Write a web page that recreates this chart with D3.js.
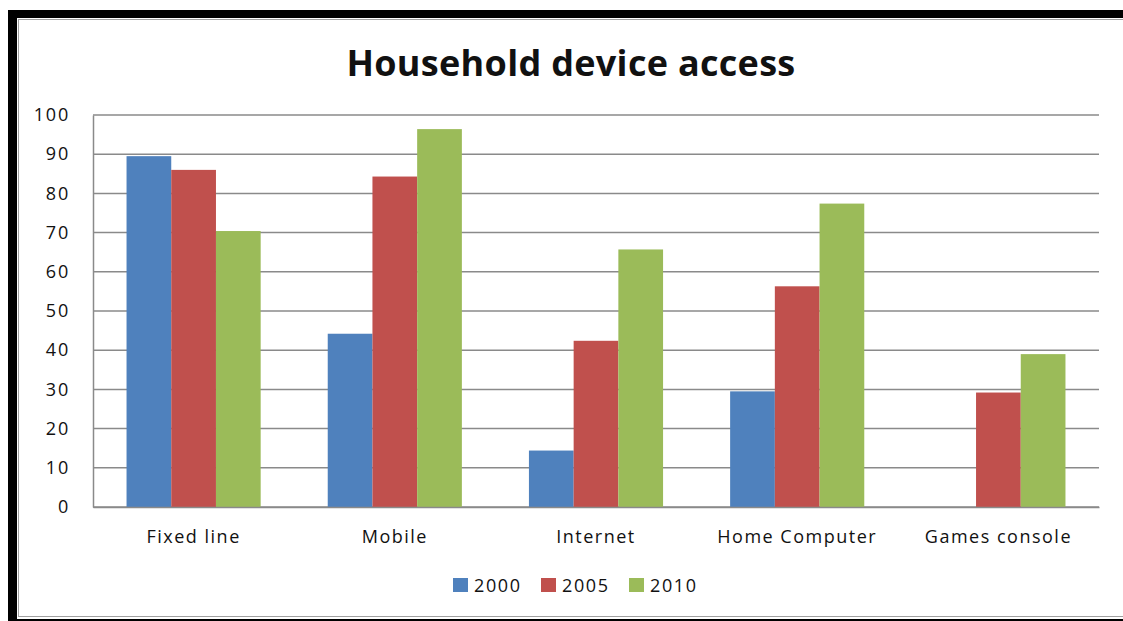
<!DOCTYPE html>
<html>
<head>
<meta charset="utf-8">
<script src="https://cdn.jsdelivr.net/npm/d3@7"></script>
<style>
  html, body { margin: 0; padding: 0; background: #ffffff; }
  svg { display: block; }
  text { font-family: "Open Sans", "Noto Sans", sans-serif; fill: #111; }
</style>
</head>
<body>
<svg id="chart" width="1123" height="621"></svg>
<script>
// Household device access, percentage of households
const categories = ["Fixed line", "Mobile", "Internet", "Home Computer", "Games console"];
const years = ["2000", "2005", "2010"];
const values2000 = [89.5, 44.2, 14.4, 29.5, 0];
const values2005 = [86, 84.3, 42.4, 56.3, 29.2];
const values2010 = [70.4, 96.4, 65.7, 77.4, 39];
const yTicks = [0, 10, 20, 30, 40, 50, 60, 70, 80, 90, 100];
const colors = ["#4F81BD", "#C0504D", "#9BBB59"];

const seriesValues = [values2000, values2005, values2010];
const rows = categories.map((c, i) => ({
  category: c,
  bars: years.map((y, j) => ({ year: y, value: seriesValues[j][i] }))
}));

const svg = d3.select("#chart");

// outer frame: heavy black border with a thin grey inner rule
svg.append("rect").attr("x", 8).attr("y", 10).attr("width", 1200).attr("height", 700).attr("fill", "#000");
svg.append("rect").attr("x", 17).attr("y", 18).attr("width", 1200).attr("height", 601).attr("fill", "#fff");
svg.append("rect").attr("x", 18.5).attr("y", 19.5).attr("width", 1200).attr("height", 597)
  .attr("fill", "none").attr("stroke", "#a0a0a0").attr("stroke-width", 1);

const plot = { left: 93, right: 1099, top: 115, bottom: 507 };

const x0 = d3.scaleBand()
  .domain(categories)
  .range([plot.left, plot.right])
  .paddingInner(1 / 3)
  .paddingOuter(1 / 6);

const x1 = d3.scaleBand()
  .domain(years)
  .range([0, x0.bandwidth()]);

const y = d3.scaleLinear().domain([0, 100]).range([plot.bottom, plot.top]);
const color = d3.scaleOrdinal().domain(years).range(colors);

// horizontal gridlines
svg.append("g")
  .selectAll("line")
  .data(yTicks)
  .join("line")
  .attr("x1", plot.left)
  .attr("x2", plot.right)
  .attr("y1", d => y(d))
  .attr("y2", d => y(d))
  .attr("stroke", "#8a8a8a")
  .attr("stroke-width", 1.5);

// value axis
const yAxis = svg.append("g")
  .attr("transform", `translate(${plot.left},0)`)
  .call(d3.axisLeft(y).tickValues(yTicks).tickSize(0).tickPadding(23));
yAxis.select(".domain").attr("stroke", "#8a8a8a").attr("stroke-width", 1.5);
yAxis.selectAll("text")
  .style("font-size", "18px")
  .style("letter-spacing", "1.8px")
  .attr("fill", "#111");

// bars
const groups = svg.append("g")
  .selectAll("g")
  .data(rows)
  .join("g")
  .attr("transform", d => `translate(${x0(d.category)},0)`);

groups.selectAll("rect")
  .data(d => d.bars)
  .join("rect")
  .attr("x", d => x1(d.year))
  .attr("width", x1.bandwidth())
  .attr("y", d => y(d.value))
  .attr("height", d => y(0) - y(d.value))
  .attr("fill", d => color(d.year));

// category axis
const xAxis = svg.append("g")
  .attr("transform", `translate(0,${plot.bottom})`)
  .call(d3.axisBottom(x0).tickSize(0).tickPadding(23));
xAxis.select(".domain").attr("stroke", "#8a8a8a").attr("stroke-width", 1.5);
xAxis.selectAll("text")
  .style("font-size", "18px")
  .style("letter-spacing", "1.5px")
  .attr("fill", "#111");

// title
svg.append("text")
  .attr("x", 571)
  .attr("y", 76)
  .attr("text-anchor", "middle")
  .style("font-size", "36px")
  .style("font-weight", "700")
  .style("letter-spacing", "0.3px")
  .attr("fill", "#000")
  .text("Household device access");

// legend
const legendItems = [
  { year: years[0], x: 453 },
  { year: years[1], x: 541 },
  { year: years[2], x: 629 }
];
const legend = svg.append("g").attr("class", "legend");
const li = legend.selectAll("g").data(legendItems).join("g")
  .attr("transform", d => `translate(${d.x},578)`);
li.append("rect").attr("width", 15).attr("height", 14).attr("fill", d => color(d.year));
li.append("text")
  .attr("x", 21)
  .attr("y", 13.5)
  .style("font-size", "18px")
  .style("letter-spacing", "1.6px")
  .text(d => d.year);
</script>
</body>
</html>
